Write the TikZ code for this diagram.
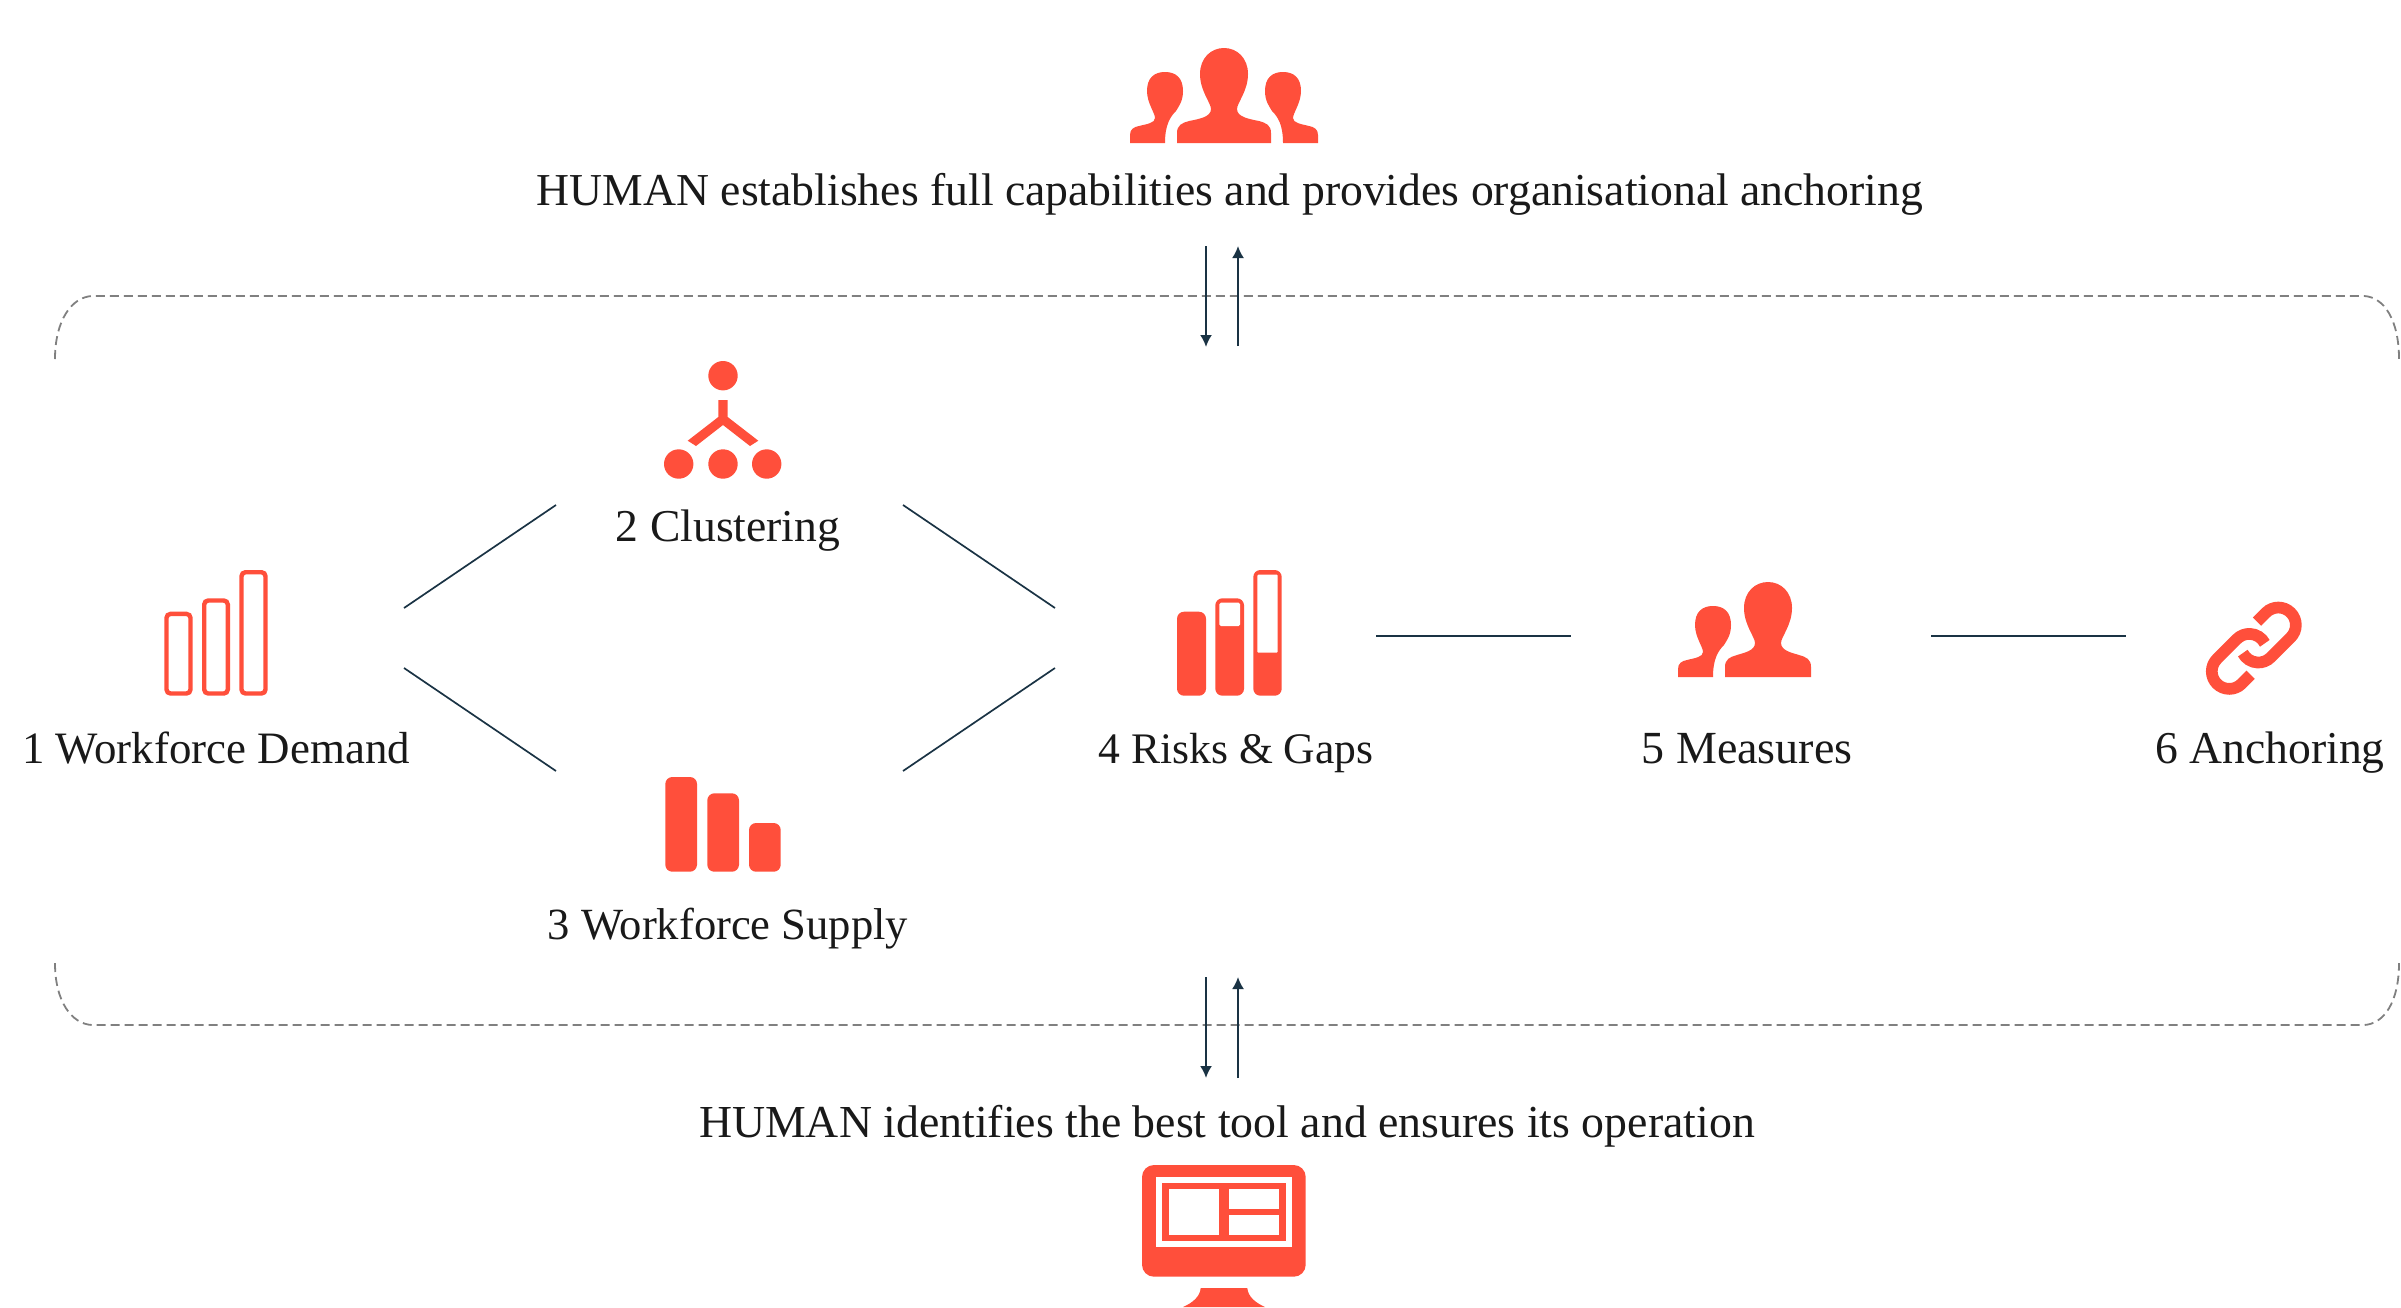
\documentclass[tikz,border=0pt]{standalone}
\usepackage{fontspec}
\setmainfont{Liberation Serif}
\usetikzlibrary{arrows.meta}
\definecolor{iconred}{HTML}{FF4F3B}
\definecolor{linedark}{HTML}{1A3344}
\definecolor{dashgray}{HTML}{808080}
\newcommand{\fs}[1]{\fontsize{#1}{56}\selectfont}
\tikzset{
  icon/.style={fill=iconred,draw=none},
  txt/.style={anchor=base,inner sep=0pt,text=black!90},
  conn/.style={draw=linedark,line width=1.7pt},
  flow/.style={draw=linedark,line width=2pt,-{Latex[length=12pt,width=12pt]}},
  frame/.style={draw=dashgray,line width=1.8pt,dash pattern=on 9pt off 5pt},
  outbar/.style={draw=iconred,line width=4.4pt,rounded corners=4pt},
  solidbar/.style={fill=iconred,draw=none,rounded corners=7pt},
  chain/.style={draw=iconred,line width=11.7pt,line cap=butt}
}
\newcommand{\bigperson}[3]{% x, bottom y, half base width
  \begin{scope}[shift={(#1,#2)},yscale=-1]
    \fill[icon] (-#3,0) -- (-#3,10) .. controls (-#3,18) and (-#3+5,20) .. (-#3+12,22)
      .. controls (-25,24) and (-13,26) .. (-13,34)
      .. controls (-13,40) and (-24,52) .. (-24,69)
      .. controls (-24,85) and (-13,95) .. (0,95)
      .. controls (13,95) and (24,85) .. (24,69)
      .. controls (24,52) and (13,40) .. (13,34)
      .. controls (13,26) and (25,24) .. (#3-12,22)
      .. controls (#3-5,20) and (#3,18) .. (#3,10) -- (#3,0) -- cycle;
  \end{scope}}
\newcommand{\smallperson}[3]{% x, bottom y, mirror
  \begin{scope}[shift={(#1,#2)},yscale=-1,xscale=#3]
    \fill[icon] (-35,0) -- (-35,8) .. controls (-35,14) and (-31,16) .. (-26,17)
      .. controls (-18,19) and (-10,20) .. (-10,25)
      .. controls (-10,30) and (-18,40) .. (-18,52)
      .. controls (-18,65) and (-11,71) .. (0,71)
      .. controls (11,71) and (18,65) .. (18,52)
      .. controls (18,42) and (14,37) .. (11,32)
      .. controls (5,26) and (0,18) .. (0,0) -- cycle;
  \end{scope}}
\newcommand{\linkpiece}{%
  \draw[chain] (-11,-4.9) arc[start angle=207.5,end angle=315,radius=17.5]
    -- ++(20,20) arc[start angle=315,end angle=495,radius=17.5] -- ++(-9,-9);}
\begin{document}
\begin{tikzpicture}[x=1pt,y=-1pt]
\useasboundingbox (0,0) rectangle (2401,1307);
% texts
\node[txt,font=\fs{45.7}] (top) at (1230,205) {HUMAN establishes full capabilities and provides organisational anchoring};
\node[txt,font=\fs{45.8}] (bottom) at (1227,1137) {HUMAN identifies the best tool and ensures its operation};
\node[txt,font=\fs{44.9}] (n1) at (216,763) {1 Workforce Demand};
\node[txt,font=\fs{45.6}] (n2) at (728,541) {2 Clustering};
\node[txt,font=\fs{44.6}] (n3) at (728,939) {3 Workforce Supply};
\node[txt,font=\fs{43.6}] (n4) at (1236,763) {4 Risks \& Gaps};
\node[txt,font=\fs{46}] (n5) at (1747,763) {5 Measures};
\node[txt,font=\fs{45.6}] (n6) at (2270,763) {6 Anchoring};
% dashed frames
\draw[frame] (55,359) .. controls (55,320) and (72,297) .. (92,296) -- (2364,296) .. controls (2384,297) and (2399,320) .. (2399,359);
\draw[frame] (55,963) .. controls (55,1002) and (72,1024) .. (92,1025) -- (2364,1025) .. controls (2384,1024) and (2399,1002) .. (2399,963);
% connector ends
\coordinate (a1) at (404,608); \coordinate (a2) at (556,505);
\coordinate (b1) at (404,668); \coordinate (b2) at (556,771);
\coordinate (c1) at (903,505); \coordinate (c2) at (1055,608);
\coordinate (d1) at (903,771); \coordinate (d2) at (1055,668);
\coordinate (e1) at (1376,636); \coordinate (e2) at (1571,636);
\coordinate (f1) at (1931,636); \coordinate (f2) at (2126,636);
\draw[conn] (a1) -- (a2);
\draw[conn] (b1) -- (b2);
\draw[conn] (c1) -- (c2);
\draw[conn] (d1) -- (d2);
\draw[conn] (e1) -- (e2);
\draw[conn] (f1) -- (f2);
% flow arrows
\coordinate (t1) at (1206,246); \coordinate (t2) at (1206,347);
\coordinate (t3) at (1238,346); \coordinate (t4) at (1238,246);
\coordinate (u1) at (1206,977); \coordinate (u2) at (1206,1078);
\coordinate (u3) at (1238,1078); \coordinate (u4) at (1238,977);
\draw[flow] (t1) -- (t2);
\draw[flow] (t3) -- (t4);
\draw[flow] (u1) -- (u2);
\draw[flow] (u3) -- (u4);
% top group icon
\bigperson{1224}{143}{47}
\smallperson{1165}{143}{1}
\smallperson{1283}{143}{-1}
% clustering icon
\fill[icon] (723,375.7) circle[radius=14.7];
\fill[icon] (678.7,464) circle[radius=14.7];
\fill[icon] (723,464) circle[radius=14.7];
\fill[icon] (766.7,464) circle[radius=14.7];
\fill[icon] (718.3,400) -- (727.7,400) -- (727.7,417) -- (758.3,440.7) -- (750,446) -- (723,425) -- (696,446) -- (687.7,440.7) -- (718.3,417) -- cycle;
% workforce demand icon
\draw[outbar] (166.5,613.9) rectangle (190.5,693.5);
\draw[outbar] (204.2,600.5) rectangle (227.8,693.5);
\draw[outbar] (241.5,572.2) rectangle (265.5,693.5);
% workforce supply icon
\fill[solidbar] (665.3,777) rectangle (697,871.7);
\fill[solidbar] (707.3,793.3) rectangle (739,871.7);
\fill[solidbar] (749,823) rectangle (780.7,871.7);
% risks icon
\fill[solidbar] (1177,611.7) rectangle (1206,695.7);
\fill[solidbar] (1215.3,598.3) rectangle (1244,695.7);
\fill[solidbar] (1253.3,570) rectangle (1281.7,695.7);
\fill[white,rounded corners=1.5pt] (1219.3,602.7) -- (1240,602.7) -- (1240,626) -- (1219.3,626) -- cycle;
\fill[white,rounded corners=1pt] (1257.3,574.7) -- (1277.7,574.7) -- (1277.7,652.7) -- (1257.3,652.7) -- cycle;
% measures icon
\bigperson{1768}{677}{43}
\smallperson{1713}{677}{1}
% link icon
\begin{scope}[shift={(2253.8,648.2)},yscale=-1]
  \linkpiece
  \begin{scope}[rotate=180]\linkpiece\end{scope}
\end{scope}
% monitor icon
\fill[icon,rounded corners=12pt] (1142,1165) rectangle (1305.7,1276.7);
\fill[white] (1155.7,1176.7) rectangle (1292.3,1247.3);
\fill[icon] (1162,1182.7) rectangle (1286,1240.7);
\fill[white] (1169,1189) rectangle (1218.7,1235);
\fill[white] (1229.3,1189) rectangle (1279,1209);
\fill[white] (1229.3,1215) rectangle (1279,1235);
\fill[icon] (1200.7,1288) -- (1247.3,1288) .. controls (1248,1297) and (1256,1303) .. (1265,1307) -- (1183,1307) .. controls (1192,1303) and (1200,1297) .. (1200.7,1288) -- cycle;
\end{tikzpicture}
\end{document}
